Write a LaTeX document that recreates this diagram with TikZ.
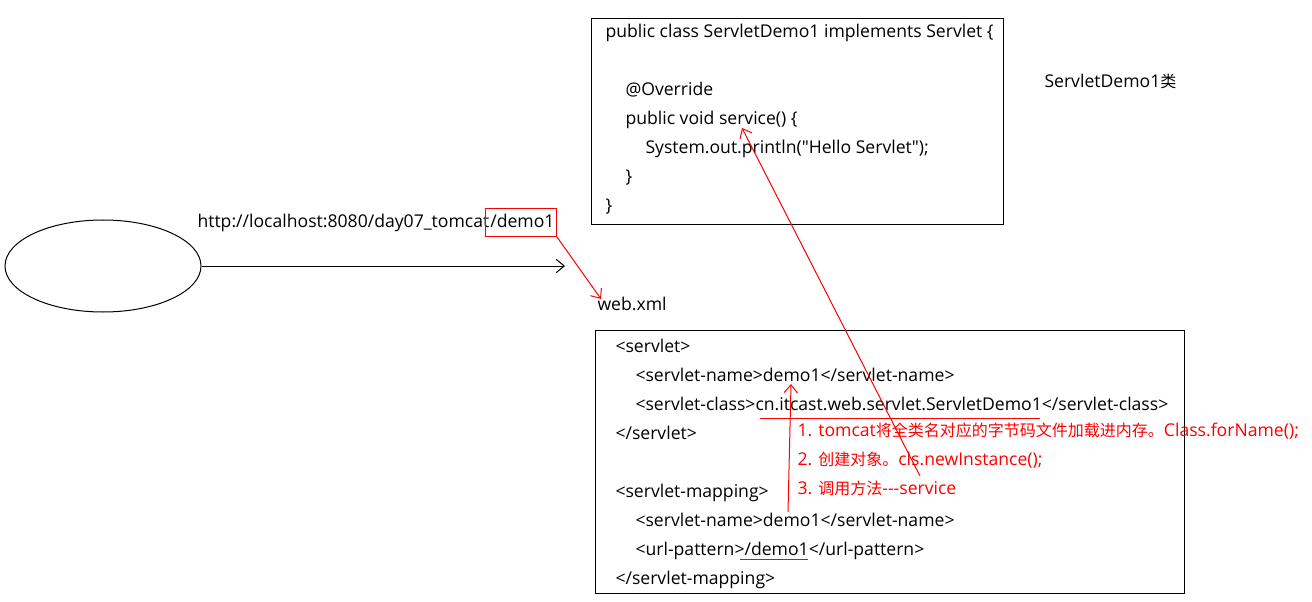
\documentclass[tikz,border=0pt]{standalone}
\usepackage{fontspec}
\setmainfont{Open Sans}[Scale=1.1]
\newfontfamily\cjk{Noto Sans CJK SC}
\usetikzlibrary{arrows.meta,shapes.geometric}
\begin{document}
\begin{tikzpicture}[x=0.75pt,y=-0.75pt,
  every path/.style={line width=0.75pt},
  txt/.style={anchor=base west, inner sep=0pt, font=\fontsize{12}{14}\selectfont},
  rtxt/.style={txt, text=red},
  arr/.style={-{Straight Barb[length=6pt,width=10pt]}},
  box/.style={draw, anchor=north west, inner sep=0pt}]
\useasboundingbox (0,0) rectangle (1312,602);

% client ellipse and request
\node[draw, ellipse, minimum width=147pt, minimum height=69pt, inner sep=0pt] (client) at (103,266) {};
\coordinate (reqtip) at (565,266);
\draw[arr] (client.east) -- (reqtip);

\node[txt] (url) at (197,228) {http://localhost:8080/day07\_tomcat};
\node[txt] (urld) at (url.base east) {/demo1};
\node[draw=red, anchor=north west, inner sep=0pt, minimum width=53.25pt, minimum height=21pt] (rbox) at (485,208) {};

\node[txt] (webxml) at (597,310) {web.xml};
\coordinate (webtip) at (601,299);
\draw[arr, red] (rbox.south east) -- (webtip);

% top box: class
\node[box, minimum width=309pt, minimum height=154.5pt] (box1) at (591,18) {};
\node[txt] (c1) at (605,38) {public class ServletDemo1 implements Servlet \{};
\node[txt] (c2) at (625,96) {@Override};
\node[txt] (c3) at (625,125) {public void service() \{};
\node[txt] (c4) at (645,154) {System.out.println(\textquotedbl Hello Servlet\textquotedbl);};
\node[txt] (c5) at (625,183) {\}};
\node[txt] (c6) at (605,212) {\}};
\node[txt] (cls) at (1044,88) {ServletDemo1{\cjk 类}};

% bottom box: web.xml
\node[box, minimum width=441.75pt, minimum height=197.25pt] (box2) at (595,330) {};
\node[txt] (x1) at (615,352) {<servlet>};
\node[txt] (x2) at (635,381) {<servlet-name>demo1</servlet-name>};
\node[txt] (x3) at (635,410) {<servlet-class>cn.itcast.web.servlet.ServletDemo1</servlet-class>};
\node[txt] (x4) at (615,439) {</servlet>};
\node[txt] (x5) at (615,497) {<servlet-mapping>};
\node[txt] (x6) at (635,526) {<servlet-name>demo1</servlet-name>};
\node[txt] (x7) at (635,555) {<url-pattern>/demo1</url-pattern>};
\node[txt] (x8) at (615,584) {</servlet-mapping>};

% red notes
\node[rtxt] (n1) at (797,436) {1. tomcat{\cjk 将全类名对应的字节码文件加载进内存。}Class.forName();};
\node[rtxt] (n2) at (797,465) {2. {\cjk 创建对象。}cls.newInstance();};
\node[rtxt] (n3) at (797,494) {3. {\cjk 调用方法}-{}-{}-service};

% underlines
\coordinate (u1a) at (760,418); \coordinate (u1b) at (1040,418);
\coordinate (u2a) at (740,559); \coordinate (u2b) at (808,559);
\draw[red] (u1a) -- (u1b);
\draw[red] (u2a) -- (u2b);

% red arrows
\coordinate (m1) at (788,512); \coordinate (m1tip) at (791,384);
\draw[arr, red] (m1) -- (m1tip);
\coordinate (s1) at (920,476); \coordinate (s1tip) at (742,128);
\draw[arr, red] (s1) -- (s1tip);
\end{tikzpicture}
\end{document}
